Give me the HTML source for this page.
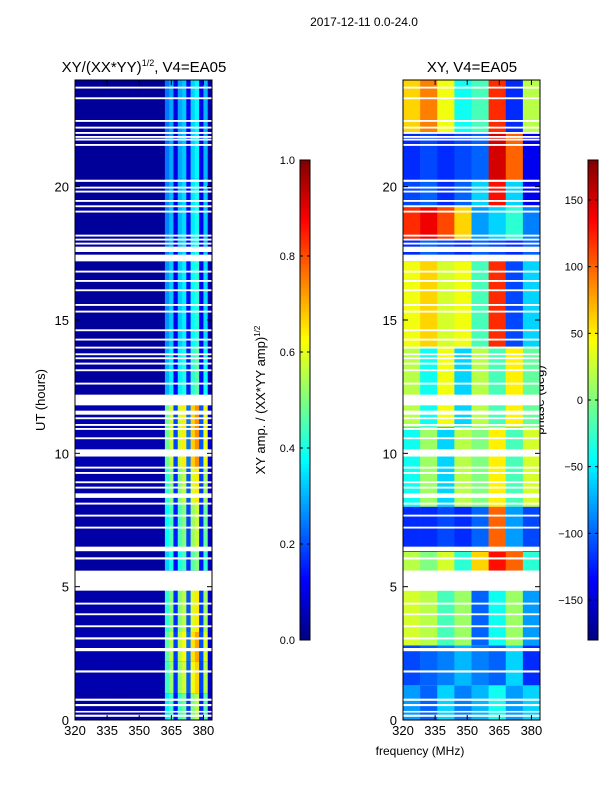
<!DOCTYPE html>
<html><head><meta charset="utf-8"><style>
body{margin:0;background:#fff;width:600px;height:800px;overflow:hidden}
svg text{font-family:"Liberation Sans","DejaVu Sans",sans-serif;fill:#000}
</style></head><body>
<svg id="c" width="600" height="800" xmlns="http://www.w3.org/2000/svg">
<text x="364" y="26" font-size="12" text-anchor="middle">2017-12-11 0.0-24.0</text>
<text x="144" y="72" font-size="15" text-anchor="middle">XY/(XX*YY)<tspan font-size="9" dy="-6">1/2</tspan><tspan dy="6">, V4=EA05</tspan></text>
<text x="472" y="72" font-size="15" text-anchor="middle">XY, V4=EA05</text>
<text transform="translate(45,400) rotate(-90)" font-size="13" text-anchor="middle">UT (hours)</text>
<text transform="translate(265,400) rotate(-90)" font-size="13" text-anchor="middle">XY amp. / (XX*YY amp)<tspan font-size="8" dy="-5">1/2</tspan></text>
<text transform="translate(544,400) rotate(-90)" font-size="13" text-anchor="middle">phase (deg)</text>
<text x="420" y="755" font-size="12" text-anchor="middle">frequency (MHz)</text>
<g id="g1"></g>
<g id="g2"></g>
<g id="ax"></g>
</svg>
<script>
const hourTicks=[0,5,10,15,20];
const freqTicks=[320,335,350,365,380];
const ampTicks=[0.0,0.2,0.4,0.6,0.8,1.0];
const phaseTicks=[-150,-100,-50,0,50,100,150];
// amplitude column profile, 2 MHz bins from 320 to 384
const ampCols=[0.03,0.03,0.03,0.03,0.03,0.03,0.03,0.03,0.03,0.03,0.03,0.03,0.03,0.03,0.03,0.03,0.03,0.03,0.03,0.03,0.03,0.3,0.36,0.12,0.36,0.4,0.15,0.42,0.46,0.13,0.38,0.05];
// time bands: [start hour, end hour, amplitude factor]
const ampBands=[[0,1,1.2],[1,2.2,1.45],[2.2,3.3,1.55],[3.3,4.9,1.4],[5.6,6.3,1.1],[6.3,8.1,1.25],[8.1,9.5,1.4],[9.5,12,1.6],[12,14,1.0],[14,17.2,0.9],[17.2,20.3,0.85],[20.3,24,0.8]];
// phase: [start, end, values per 8-MHz segment]
const phaseBands=[[0,1.3,[-80,-100,-60,-90,-70,-40,-80,-60]],[1.3,2.8,[-110,-100,-90,-70,-90,-100,-60,-120]],[2.8,4.85,[30,20,-20,10,-100,-40,10,-80]],[5.6,6.3,[20,0,30,-30,60,130,100,-30]],[6.3,8.0,[-120,-120,-110,-120,-100,100,-80,-110]],[8.0,11.0,[-40,10,-60,20,0,50,-20,30]],[11.0,14.0,[20,-40,40,-60,20,-20,50,-10]],[14.0,17.2,[40,60,30,40,-20,120,-110,-60]],[17.2,18.0,[-120,-100,-110,-120,-100,-110,-120,-100]],[18.0,19.3,[120,140,110,60,-80,-60,-30,-90]],[19.3,20.2,[-110,-100,-120,-100,-60,130,-60,-140]],[20.2,22.0,[-120,-110,-120,-110,-100,150,100,-140]],[22.0,24.0,[60,90,40,-40,-20,120,-120,20]]];
const gaps=[[0.12,0.2],[0.28,0.34],[0.52,0.6],[0.72,0.8],[1.78,1.86],[2.58,2.7],[3.02,3.1],[3.48,3.55],[3.93,4.0],[4.33,4.4],[4.85,5.6],[6.02,6.1],[6.33,6.5],[7.18,7.25],[7.63,7.7],[8.08,8.15],[8.33,8.5],[8.68,8.75],[8.88,8.95],[9.23,9.3],[9.43,9.5],[9.88,10.15],[10.53,10.6],[10.88,10.95],[11.03,11.1],[11.28,11.35],[11.45,11.6],[11.8,12.2],[12.58,12.65],[13.08,13.15],[13.33,13.4],[13.53,13.6],[13.68,13.75],[13.93,14.0],[14.23,14.3],[14.58,14.65],[15.28,15.35],[15.53,15.6],[16.08,16.15],[16.43,16.5],[16.78,16.85],[17.2,17.45],[17.55,17.75],[17.83,17.9],[17.98,18.05],[18.13,18.2],[19.03,19.1],[19.23,19.3],[19.43,19.5],[19.78,19.85],[19.93,20.0],[20.18,20.26],[21.53,21.6],[21.73,21.8],[21.83,21.9],[21.98,22.05],[22.18,22.25],[22.43,22.5],[23.28,23.35],[23.68,23.75]];
const NS='http://www.w3.org/2000/svg';
const T=80,B=720;
const yS=h=>B-(h/24)*(B-T);
const xS=(f,L)=>L+(f-320)/64*137;
function jet(v){v=Math.max(0,Math.min(1,v));const c=t=>Math.round(255*Math.max(0,Math.min(1,1.5-Math.abs(4*v-t))));return `rgb(${c(3)},${c(2)},${c(1)})`;}
function rect(g,x,y,w,h,fill){const r=document.createElementNS(NS,'rect');r.setAttribute('x',x);r.setAttribute('y',y);r.setAttribute('width',w);r.setAttribute('height',h);r.setAttribute('fill',fill);g.appendChild(r);return r;}
const g1=document.getElementById('g1'),g2=document.getElementById('g2'),ax=document.getElementById('ax');
rect(g1,75,T,137,B-T,'#00007f');
ampBands.forEach(b=>{ampCols.forEach((v,i)=>{const x0=xS(320+i*2,75),x1=xS(322+i*2,75);
 const r=rect(g1,x0,yS(b[1]),x1-x0+0.3,yS(b[0])-yS(b[1]),jet(Math.min(1,v*b[2])));
 
 });});
phaseBands.forEach(b=>{b[2].forEach((v,i)=>{const x0=xS(320+i*8,403),x1=xS(328+i*8,403);
 const r=rect(g2,x0,yS(b[1]),x1-x0+0.3,yS(b[0])-yS(b[1]),jet((v+180)/360));
 
 });});
gaps.forEach(gp=>{[75,403].forEach(L=>{rect(L==75?g1:g2,L,yS(gp[1]),137,Math.max(1.5,yS(gp[0])-yS(gp[1])),'#fff');});});
function line(x1,y1,x2,y2,w){const l=document.createElementNS(NS,'line');l.setAttribute('x1',x1);l.setAttribute('y1',y1);l.setAttribute('x2',x2);l.setAttribute('y2',y2);l.setAttribute('stroke','#000');l.setAttribute('stroke-width',w||1);ax.appendChild(l);}
function txt(x,y,s,anc,size){const t=document.createElementNS(NS,'text');t.setAttribute('x',x);t.setAttribute('y',y);t.setAttribute('font-size',size||13);t.setAttribute('text-anchor',anc);t.textContent=s;ax.appendChild(t);return t;}
[75,403].forEach((L,pi)=>{
 const fr=document.createElementNS(NS,'rect');fr.setAttribute('x',L);fr.setAttribute('y',T);fr.setAttribute('width',137);fr.setAttribute('height',B-T);fr.setAttribute('fill','none');fr.setAttribute('stroke','#000');
 
 
 ax.appendChild(fr);
 hourTicks.forEach(h=>{const y=yS(h);line(L,y,L+5,y);line(L+137,y,L+132,y);const t=txt(L-6,y+5,String(h),'end');
  
  });
 freqTicks.forEach(f=>{const x=xS(f,L);line(x,T,x,T+5);line(x,B,x,B-5);const t=txt(x,B+15,String(f),'middle');
  
  });
});
function cbar(x,ticks,lo,hi,name,fmt){
 for(let i=0;i<120;i++){const v=i/120;rect(ax,x,640-(i+1)*4,10,4.3,jet(v+1/240));}
 const fr=document.createElementNS(NS,'rect');fr.setAttribute('x',x);fr.setAttribute('y',160);fr.setAttribute('width',10);fr.setAttribute('height',480);fr.setAttribute('fill','none');fr.setAttribute('stroke','#000');
 
 
 ax.appendChild(fr);
 ticks.forEach(v=>{const y=640-(v-lo)/(hi-lo)*480;line(x,y,x+3,y);line(x+10,y,x+7,y);const t=txt(x-5,y+4,fmt(v),'end',11);
  
  });
}
cbar(300,ampTicks,0,1,'amp-colorbar',v=>v.toFixed(1));
cbar(588,phaseTicks,-180,180,'phase-colorbar',v=>v<0?'\u2212'+(-v):String(v));
</script>
</body></html>
